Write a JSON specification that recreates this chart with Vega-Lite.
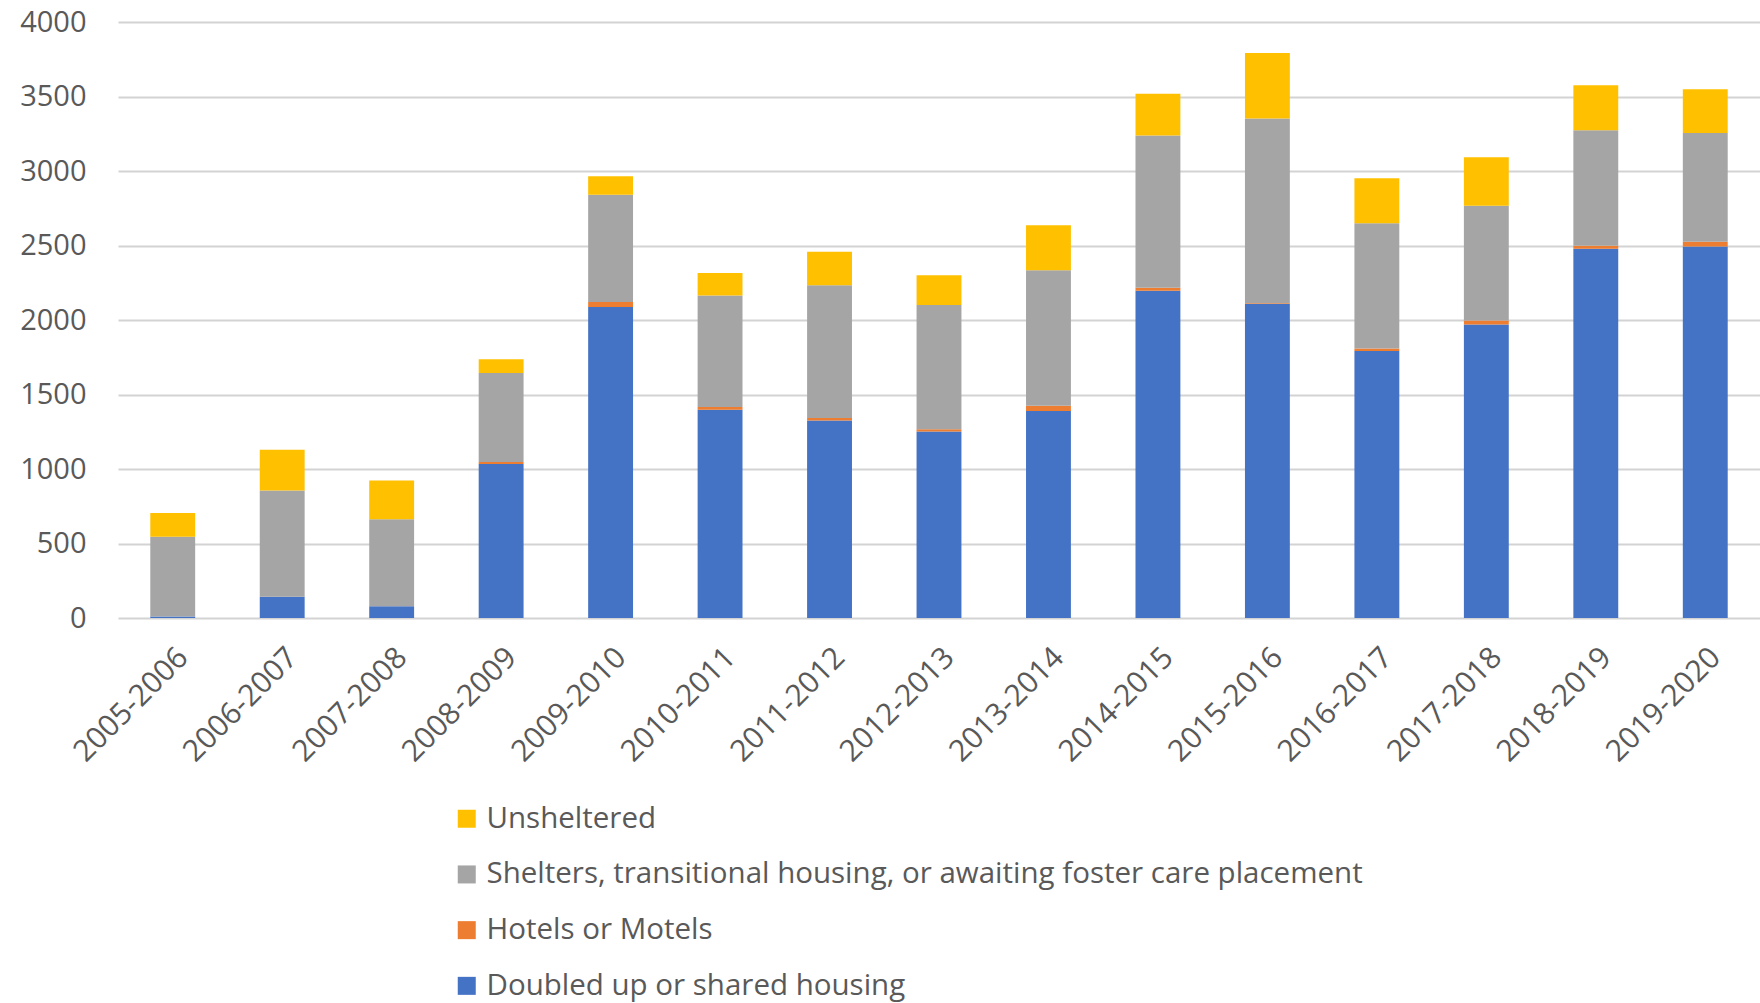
{
  "$schema": "https://vega.github.io/schema/vega-lite/v6.json",
  "width": 1642,
  "height": 596,
  "autosize": {"type": "none"},
  "padding": {"left": 118, "top": 22, "right": 0, "bottom": 385},
  "background": "white",
  "config": {
    "view": {"stroke": null},
    "font": "Open Sans",
    "axis": {"labelFont": "Open Sans", "labelColor": "#595959", "labelFontSize": 29, "ticks": false, "domain": false, "title": null},
    "legend": {"labelFont": "Open Sans", "labelColor": "#595959", "labelFontSize": 29.5, "labelLimit": 0}
  },
  "data": {
    "values": [
      {"year": "2005-2006", "category": "Doubled up or shared housing", "value": 10},
      {"year": "2005-2006", "category": "Hotels or Motels", "value": 0},
      {"year": "2005-2006", "category": "Shelters, transitional housing, or awaiting foster care placement", "value": 535},
      {"year": "2005-2006", "category": "Unsheltered", "value": 160},
      {"year": "2006-2007", "category": "Doubled up or shared housing", "value": 142},
      {"year": "2006-2007", "category": "Hotels or Motels", "value": 0},
      {"year": "2006-2007", "category": "Shelters, transitional housing, or awaiting foster care placement", "value": 713},
      {"year": "2006-2007", "category": "Unsheltered", "value": 274},
      {"year": "2007-2008", "category": "Doubled up or shared housing", "value": 79},
      {"year": "2007-2008", "category": "Hotels or Motels", "value": 0},
      {"year": "2007-2008", "category": "Shelters, transitional housing, or awaiting foster care placement", "value": 584},
      {"year": "2007-2008", "category": "Unsheltered", "value": 260},
      {"year": "2008-2009", "category": "Doubled up or shared housing", "value": 1033},
      {"year": "2008-2009", "category": "Hotels or Motels", "value": 14},
      {"year": "2008-2009", "category": "Shelters, transitional housing, or awaiting foster care placement", "value": 597},
      {"year": "2008-2009", "category": "Unsheltered", "value": 93},
      {"year": "2009-2010", "category": "Doubled up or shared housing", "value": 2088},
      {"year": "2009-2010", "category": "Hotels or Motels", "value": 33},
      {"year": "2009-2010", "category": "Shelters, transitional housing, or awaiting foster care placement", "value": 720},
      {"year": "2009-2010", "category": "Unsheltered", "value": 123},
      {"year": "2010-2011", "category": "Doubled up or shared housing", "value": 1397},
      {"year": "2010-2011", "category": "Hotels or Motels", "value": 19},
      {"year": "2010-2011", "category": "Shelters, transitional housing, or awaiting foster care placement", "value": 748},
      {"year": "2010-2011", "category": "Unsheltered", "value": 151},
      {"year": "2011-2012", "category": "Doubled up or shared housing", "value": 1326},
      {"year": "2011-2012", "category": "Hotels or Motels", "value": 16},
      {"year": "2011-2012", "category": "Shelters, transitional housing, or awaiting foster care placement", "value": 891},
      {"year": "2011-2012", "category": "Unsheltered", "value": 225},
      {"year": "2012-2013", "category": "Doubled up or shared housing", "value": 1252},
      {"year": "2012-2013", "category": "Hotels or Motels", "value": 14},
      {"year": "2012-2013", "category": "Shelters, transitional housing, or awaiting foster care placement", "value": 835},
      {"year": "2012-2013", "category": "Unsheltered", "value": 200},
      {"year": "2013-2014", "category": "Doubled up or shared housing", "value": 1389},
      {"year": "2013-2014", "category": "Hotels or Motels", "value": 36},
      {"year": "2013-2014", "category": "Shelters, transitional housing, or awaiting foster care placement", "value": 909},
      {"year": "2013-2014", "category": "Unsheltered", "value": 302},
      {"year": "2014-2015", "category": "Doubled up or shared housing", "value": 2197},
      {"year": "2014-2015", "category": "Hotels or Motels", "value": 19},
      {"year": "2014-2015", "category": "Shelters, transitional housing, or awaiting foster care placement", "value": 1022},
      {"year": "2014-2015", "category": "Unsheltered", "value": 280},
      {"year": "2015-2016", "category": "Doubled up or shared housing", "value": 2107},
      {"year": "2015-2016", "category": "Hotels or Motels", "value": 5},
      {"year": "2015-2016", "category": "Shelters, transitional housing, or awaiting foster care placement", "value": 1241},
      {"year": "2015-2016", "category": "Unsheltered", "value": 439},
      {"year": "2016-2017", "category": "Doubled up or shared housing", "value": 1792},
      {"year": "2016-2017", "category": "Hotels or Motels", "value": 16},
      {"year": "2016-2017", "category": "Shelters, transitional housing, or awaiting foster care placement", "value": 841},
      {"year": "2016-2017", "category": "Unsheltered", "value": 302},
      {"year": "2017-2018", "category": "Doubled up or shared housing", "value": 1970},
      {"year": "2017-2018", "category": "Hotels or Motels", "value": 27},
      {"year": "2017-2018", "category": "Shelters, transitional housing, or awaiting foster care placement", "value": 770},
      {"year": "2017-2018", "category": "Unsheltered", "value": 326},
      {"year": "2018-2019", "category": "Doubled up or shared housing", "value": 2479},
      {"year": "2018-2019", "category": "Hotels or Motels", "value": 20},
      {"year": "2018-2019", "category": "Shelters, transitional housing, or awaiting foster care placement", "value": 775},
      {"year": "2018-2019", "category": "Unsheltered", "value": 301},
      {"year": "2019-2020", "category": "Doubled up or shared housing", "value": 2493},
      {"year": "2019-2020", "category": "Hotels or Motels", "value": 33},
      {"year": "2019-2020", "category": "Shelters, transitional housing, or awaiting foster care placement", "value": 729},
      {"year": "2019-2020", "category": "Unsheltered", "value": 293}
    ]
  },
  "mark": {"type": "bar"},
  "encoding": {
    "x": {
      "field": "year",
      "type": "nominal",
      "sort": null,
      "scale": {"paddingInner": 0.59, "paddingOuter": 0.295},
      "axis": {"labelAngle": -45, "labelPadding": 24, "labelDx": -26, "labelFontSize": 30, "grid": false}
    },
    "y": {
      "field": "value",
      "type": "quantitative",
      "stack": "zero",
      "scale": {"domain": [0, 4000]},
      "axis": {"values": [0, 500, 1000, 1500, 2000, 2500, 3000, 3500, 4000], "format": "d", "labelPadding": 32, "grid": true, "gridColor": "#d3d3d3", "gridWidth": 2}
    },
    "color": {
      "field": "category",
      "type": "nominal",
      "scale": {
        "domain": ["Unsheltered", "Shelters, transitional housing, or awaiting foster care placement", "Hotels or Motels", "Doubled up or shared housing"],
        "range": ["#FFC000", "#A5A5A5", "#ED7D31", "#4472C4"]
      },
      "legend": {
        "title": null,
        "orient": "none",
        "legendX": 334,
        "legendY": 782,
        "direction": "vertical",
        "symbolType": "square",
        "symbolSize": 324,
        "symbolStrokeWidth": 0,
        "labelOffset": 5,
        "rowPadding": 24.7,
        "padding": 0
      }
    },
    "order": {"field": "category", "sort": "ascending"}
  }
}
